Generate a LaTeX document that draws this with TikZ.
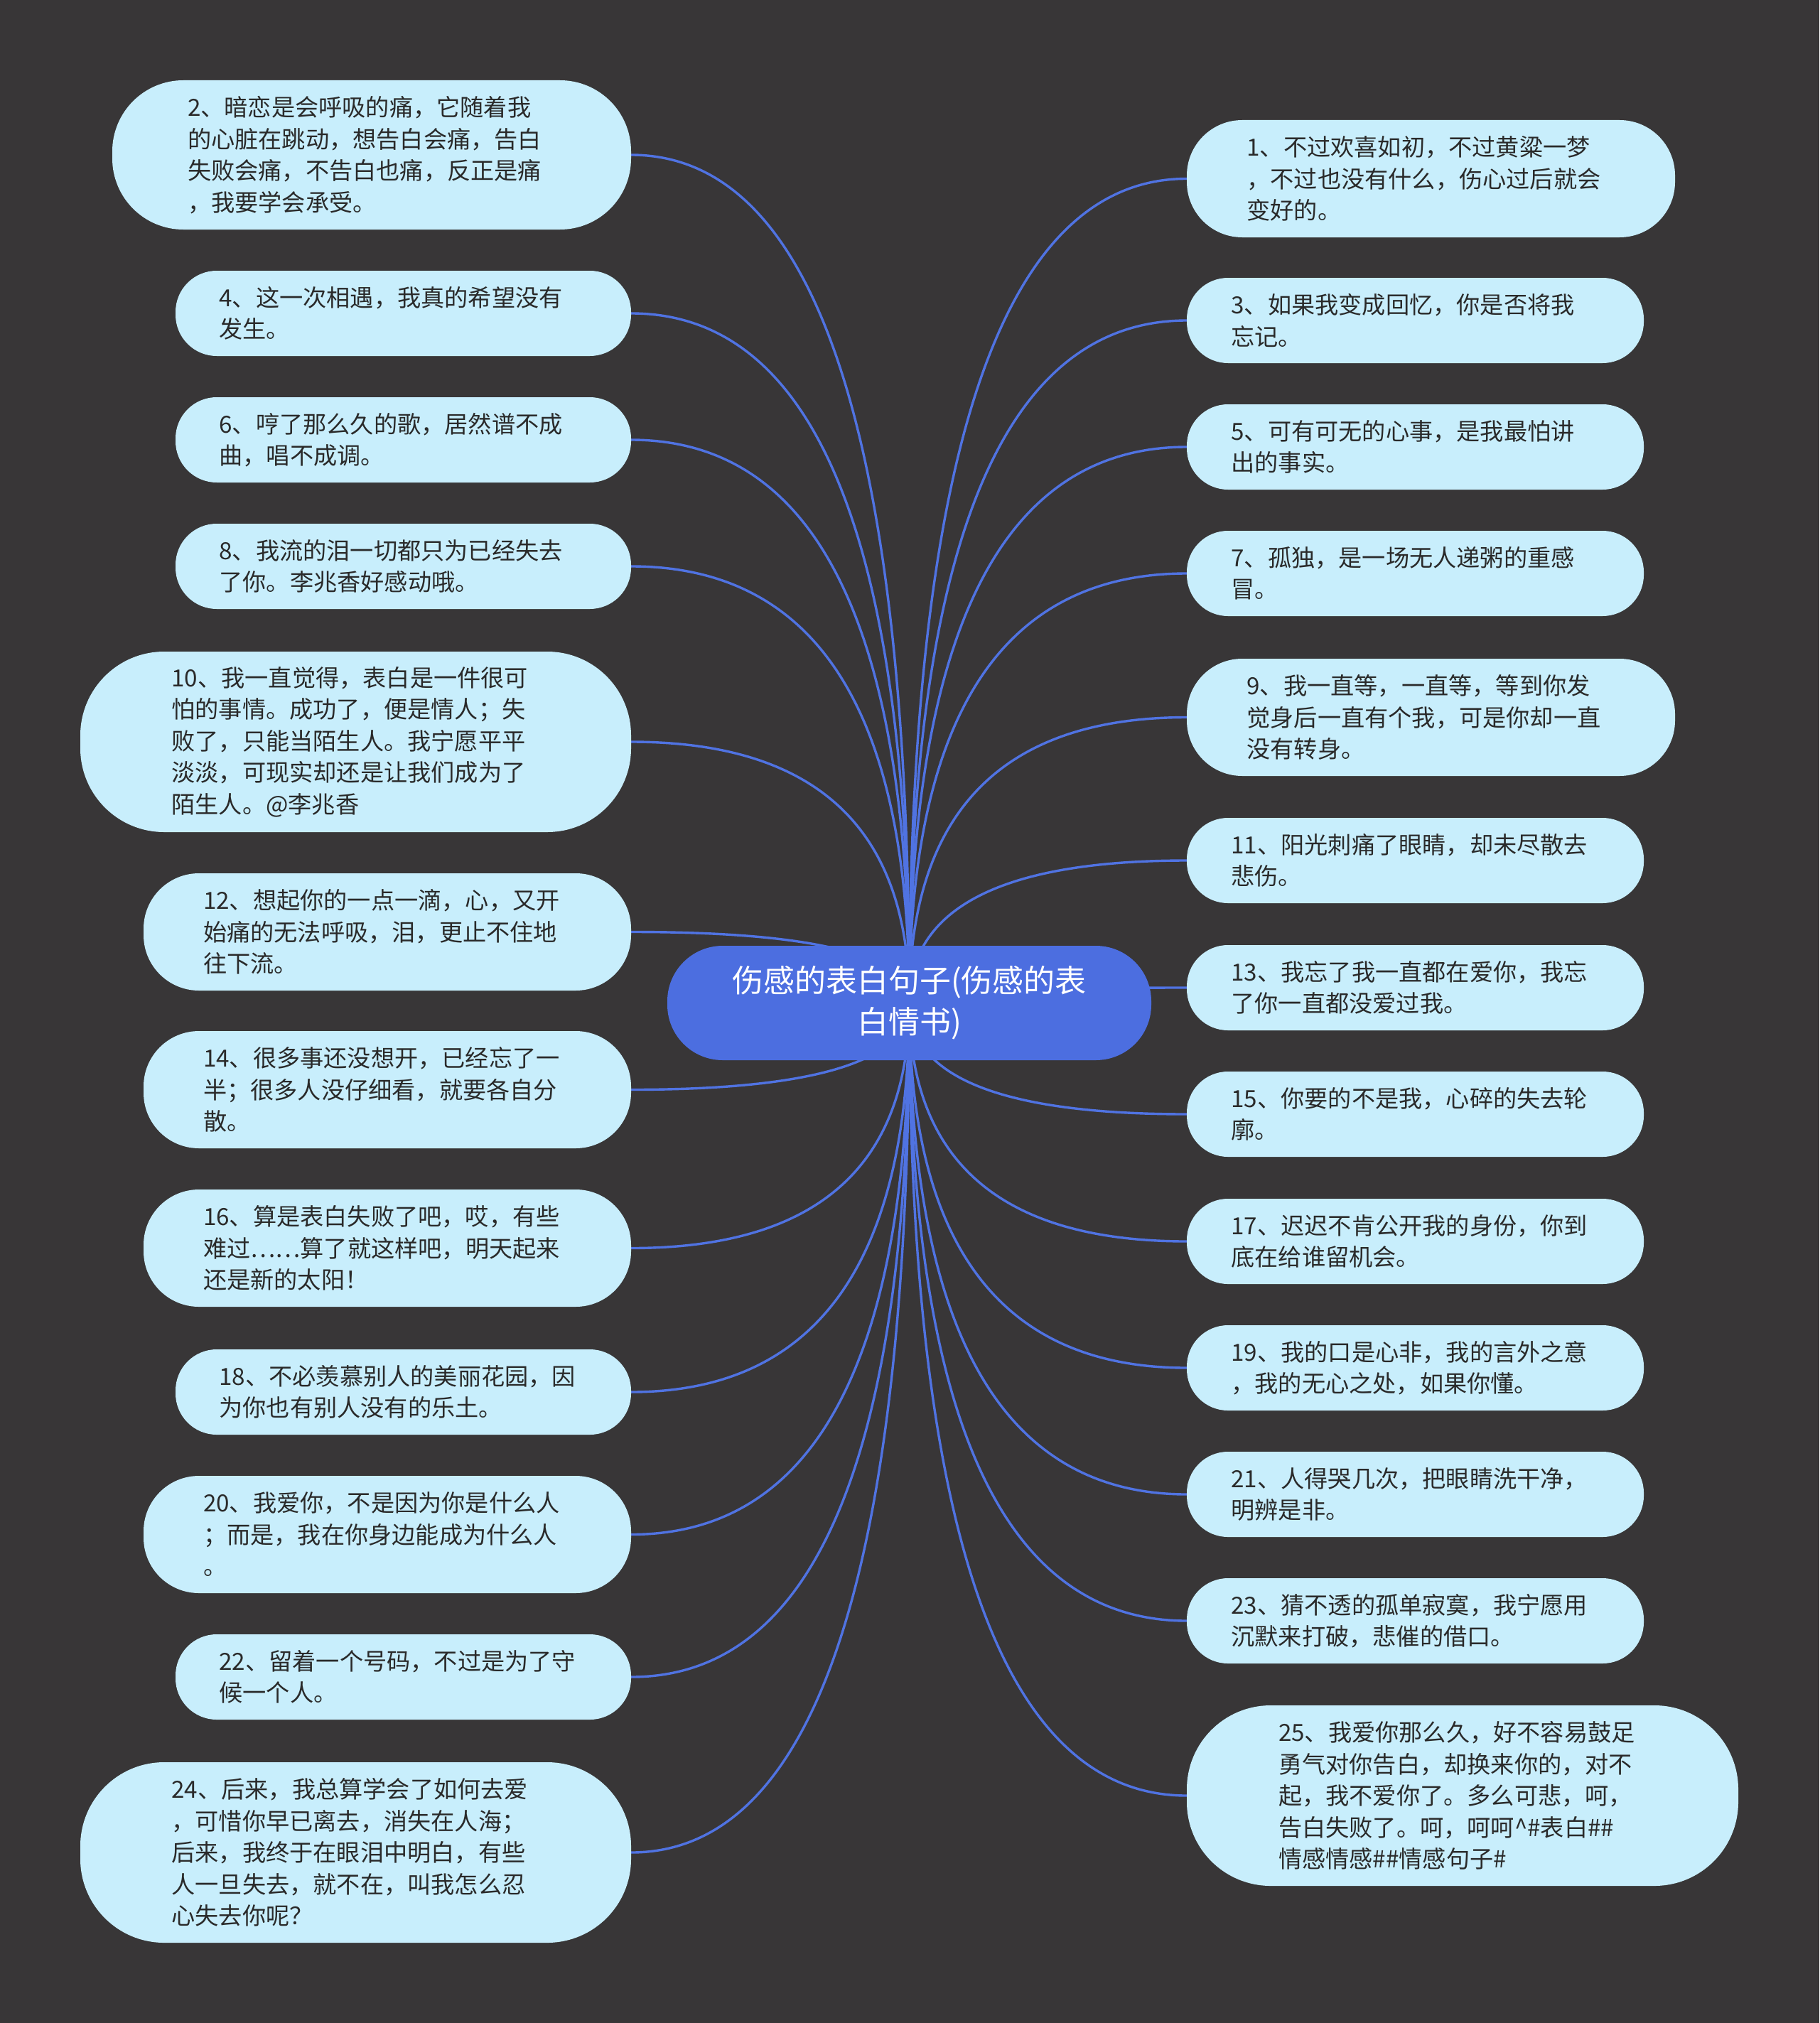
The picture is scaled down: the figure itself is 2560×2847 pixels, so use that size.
\documentclass[tikz,border=0pt]{standalone}
\usepackage{fontspec}
\setmainfont{Noto Sans CJK SC}
\usetikzlibrary{calc}
\definecolor{bgcol}{HTML}{383637}
\definecolor{leaffill}{HTML}{C8EEFC}
\definecolor{leaftext}{HTML}{2A2A2A}
\definecolor{rootfill}{HTML}{4C6EE0}
\definecolor{linecol}{HTML}{5073E2}
\pgfdeclarelayer{bglayer}
\pgfdeclarelayer{edgelayer}
\pgfsetlayers{bglayer,edgelayer,main}
\tikzset{
  leaf/.style={fill=leaffill, text=leaftext, align=left, text width=518pt, inner sep=0pt,
    font={\fontsize{33.2}{44.5}\selectfont}},
  hA/.style={leaf, minimum height=120pt, rounded corners=58pt},
  hB/.style={leaf, minimum height=165pt, rounded corners=78pt},
  hC/.style={leaf, minimum height=210pt, rounded corners=100pt},
  hD/.style={leaf, minimum height=254pt, rounded corners=118pt},
  root/.style={fill=rootfill, text=white, align=center, inner sep=0pt,
    minimum width=681pt, minimum height=161pt, rounded corners=78pt,
    font={\fontsize{44}{58}\selectfont}},
  conn/.style={draw=linecol, line width=3.4pt}
}
\begin{document}
\begin{tikzpicture}[x=1pt,y=-1pt]
\begin{pgfonlayer}{bglayer}
\fill[bgcol] (0,0) rectangle (2560,2847);
\end{pgfonlayer}
\useasboundingbox (0,0) rectangle (2560,2847);

\node[root] (C) at (1279.5,1411.5) {伤感的表白句子(伤感的表\\白情书)};

% left column
\node[hC, minimum width=730pt] (n2) at (523,218) {2、暗恋是会呼吸的痛，它随着我\\的心脏在跳动，想告白会痛，告白\\失败会痛，不告白也痛，反正是痛\\，我要学会承受。};
\node[hA, minimum width=641pt] (n4) at (567.5,441) {4、这一次相遇，我真的希望没有\\发生。};
\node[hA, minimum width=641pt] (n6) at (567.5,619) {6、哼了那么久的歌，居然谱不成\\曲，唱不成调。};
\node[hA, minimum width=641pt] (n8) at (567.5,797) {8、我流的泪一切都只为已经失去\\了你。李兆香好感动哦。};
\node[hD, minimum width=775pt] (n10) at (500.5,1044) {10、我一直觉得，表白是一件很可\\怕的事情。成功了，便是情人；失\\败了，只能当陌生人。我宁愿平平\\淡淡，可现实却还是让我们成为了\\陌生人。@李兆香};
\node[hB, minimum width=686pt] (n12) at (545,1311.5) {12、想起你的一点一滴，心，又开\\始痛的无法呼吸，泪，更止不住地\\往下流。};
\node[hB, minimum width=686pt] (n14) at (545,1533.5) {14、很多事还没想开，已经忘了一\\半；很多人没仔细看，就要各自分\\散。};
\node[hB, minimum width=686pt] (n16) at (545,1756.5) {16、算是表白失败了吧，哎，有些\\难过……算了就这样吧，明天起来\\还是新的太阳！};
\node[hA, minimum width=641pt] (n18) at (567.5,1959) {18、不必羡慕别人的美丽花园，因\\为你也有别人没有的乐土。};
\node[hB, minimum width=686pt] (n20) at (545,2159.5) {20、我爱你，不是因为你是什么人\\；而是，我在你身边能成为什么人\\。};
\node[hA, minimum width=641pt] (n22) at (567.5,2360) {22、留着一个号码，不过是为了守\\候一个人。};
\node[hD, minimum width=775pt] (n24) at (500.5,2607) {24、后来，我总算学会了如何去爱\\，可惜你早已离去，消失在人海；\\后来，我终于在眼泪中明白，有些\\人一旦失去，就不在，叫我怎么忍\\心失去你呢？};

% right column
\node[hB, minimum width=687pt] (n1) at (2013.5,251.5) {1、不过欢喜如初，不过黄粱一梦\\，不过也没有什么，伤心过后就会\\变好的。};
\node[hA, minimum width=643pt] (n3) at (1991.5,451) {3、如果我变成回忆，你是否将我\\忘记。};
\node[hA, minimum width=643pt] (n5) at (1991.5,629) {5、可有可无的心事，是我最怕讲\\出的事实。};
\node[hA, minimum width=643pt] (n7) at (1991.5,807) {7、孤独，是一场无人递粥的重感\\冒。};
\node[hB, minimum width=687pt] (n9) at (2013.5,1009.5) {9、我一直等，一直等，等到你发\\觉身后一直有个我，可是你却一直\\没有转身。};
\node[hA, minimum width=643pt] (n11) at (1991.5,1211) {11、阳光刺痛了眼睛，却未尽散去\\悲伤。};
\node[hA, minimum width=643pt] (n13) at (1991.5,1390) {13、我忘了我一直都在爱你，我忘\\了你一直都没爱过我。};
\node[hA, minimum width=643pt] (n15) at (1991.5,1568) {15、你要的不是我，心碎的失去轮\\廓。};
\node[hA, minimum width=643pt] (n17) at (1991.5,1747) {17、迟迟不肯公开我的身份，你到\\底在给谁留机会。};
\node[hA, minimum width=643pt] (n19) at (1991.5,1925) {19、我的口是心非，我的言外之意\\，我的无心之处，如果你懂。};
\node[hA, minimum width=643pt] (n21) at (1991.5,2103) {21、人得哭几次，把眼睛洗干净，\\明辨是非。};
\node[hA, minimum width=643pt] (n23) at (1991.5,2281) {23、猜不透的孤单寂寞，我宁愿用\\沉默来打破，悲催的借口。};
\node[hD, minimum width=776pt] (n25) at (2058,2527) {25、我爱你那么久，好不容易鼓足\\勇气对你告白，却换来你的，对不\\起，我不爱你了。多么可悲，呵，\\告白失败了。呵，呵呵\textasciicircum\#表白\#\#\\情感情感\#\#情感句子\#};

\begin{pgfonlayer}{edgelayer}
\foreach \n in {n2,n4,n6,n8,n10,n12,n14,n16,n18,n20,n22,n24}{
  \draw[conn] (C.center) .. controls ($(C.center)!0.667!(C.center|-\n.east)$) and ($(\n.east)!0.667!(C.center|-\n.east)$) .. (\n.east);
}
\foreach \n in {n1,n3,n5,n7,n9,n11,n13,n15,n17,n19,n21,n23,n25}{
  \draw[conn] (C.center) .. controls ($(C.center)!0.667!(C.center|-\n.west)$) and ($(\n.west)!0.667!(C.center|-\n.west)$) .. (\n.west);
}
\end{pgfonlayer}
\end{tikzpicture}
\end{document}
